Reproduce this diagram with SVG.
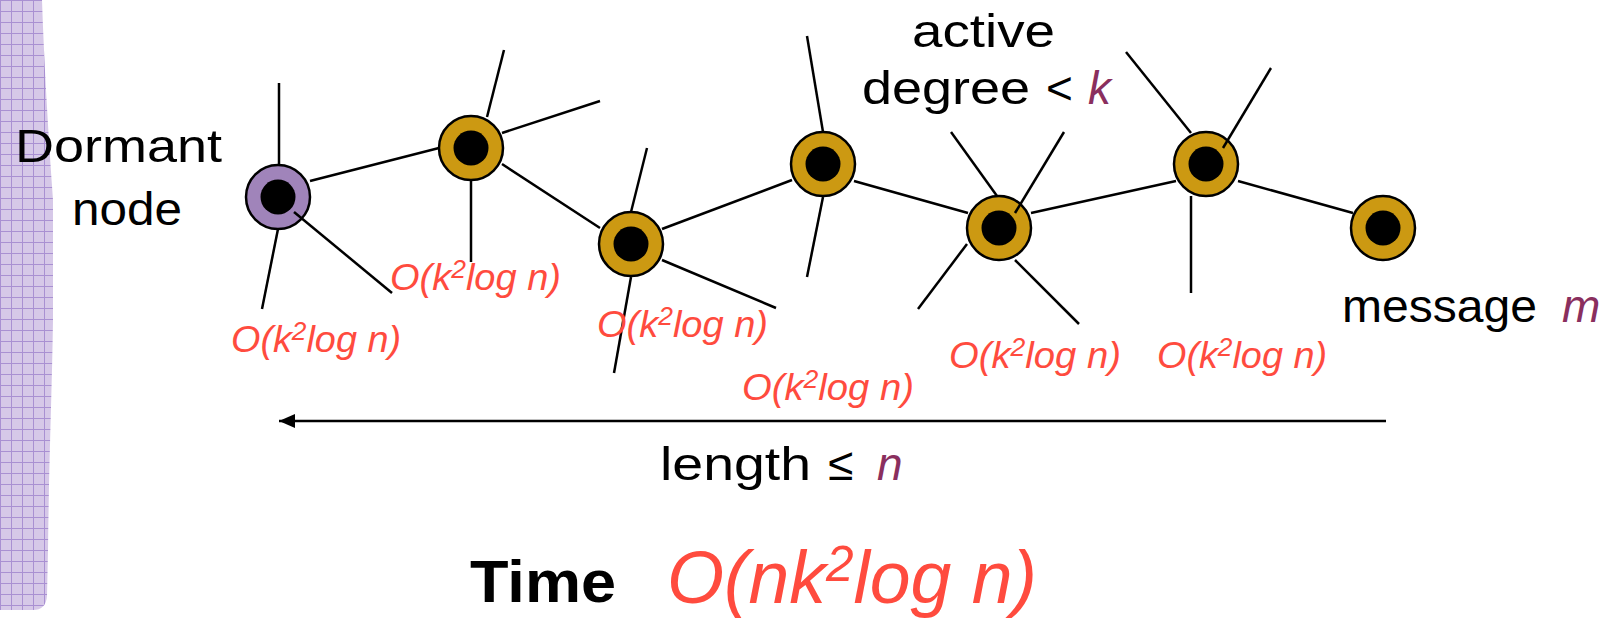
<svg xmlns="http://www.w3.org/2000/svg" width="1614" height="619" viewBox="0 0 1614 619">
  <style>
    .txt { font-family: "Liberation Sans", "DejaVu Sans", sans-serif; fill: #000; font-size: 46px; }
    .lbl { font-family: "Liberation Sans", "DejaVu Sans", sans-serif; fill: #FF4B3E; font-style: italic; font-size: 36px; }
    .big { font-size: 74px; }
    .sup { font-size: 25px; }
    .var { fill: #8A2F5E; font-style: italic; }
    .edge { stroke: #000; stroke-width: 2.5; fill: none; }
    .ring { stroke: #000; stroke-width: 2.5; }
    .gold { fill: #CC9912; }
    .dorm { fill: #A084BA; }
    .core { fill: #000; }
  </style>
  <defs>
    <pattern id="grid" width="11" height="11" patternUnits="userSpaceOnUse">
      <rect width="11" height="11" fill="#D6C8E8"/>
      <path d="M0,0.5 H11 M0.5,0 V11" stroke="#A990D2" stroke-width="1" fill="none"/>
    </pattern>
    <marker id="arrow" markerWidth="16" markerHeight="14" refX="16" refY="7" orient="auto" markerUnits="userSpaceOnUse">
      <path d="M0,0 L16,7 L0,14 Z" fill="#000"/>
    </marker>
  </defs>
  <rect width="1614" height="619" fill="#fff"/>

  <!-- left decorative strip -->
  <path id="strip" d="M0,0 L42,0 C44,60 48,130 53,200 L53,320 C52,390 49,460 48,550 L47,596 Q46,610 33,610 L0,610 Z" fill="url(#grid)"/>

  <!-- nodes -->
  <g id="node-dormant"><circle class="ring dorm" cx="278" cy="197" r="32"/><circle class="core" cx="278" cy="197" r="17.5"/></g>
  <g id="node-1"><circle class="ring gold" cx="471" cy="148" r="32"/><circle class="core" cx="471" cy="148" r="17.5"/></g>
  <g id="node-2"><circle class="ring gold" cx="631" cy="244" r="32"/><circle class="core" cx="631" cy="244" r="17.5"/></g>
  <g id="node-3"><circle class="ring gold" cx="823" cy="164" r="32"/><circle class="core" cx="823" cy="164" r="17.5"/></g>
  <g id="node-4"><circle class="ring gold" cx="999" cy="228" r="32"/><circle class="core" cx="999" cy="228" r="17.5"/></g>
  <g id="node-5"><circle class="ring gold" cx="1206" cy="164" r="32"/><circle class="core" cx="1206" cy="164" r="17.5"/></g>
  <g id="node-6"><circle class="ring gold" cx="1383" cy="228" r="32"/><circle class="core" cx="1383" cy="228" r="17.5"/></g>

  <!-- connectors -->
  <g id="connectors" class="edge">
    <line x1="279" y1="83" x2="279" y2="165"/>
    <line x1="278" y1="229" x2="262" y2="309"/>
    <line x1="294" y1="212" x2="392" y2="293"/>
    <line x1="310" y1="181" x2="439" y2="148"/>

    <line x1="487" y1="117" x2="504" y2="50"/>
    <line x1="502" y1="133" x2="600" y2="101"/>
    <line x1="471" y1="181" x2="471" y2="262"/>
    <line x1="502" y1="164" x2="600" y2="228"/>

    <line x1="631" y1="212" x2="647" y2="148"/>
    <line x1="631" y1="277" x2="614" y2="373"/>
    <line x1="662" y1="260" x2="776" y2="308"/>
    <line x1="662" y1="229" x2="792" y2="180"/>

    <line x1="823" y1="132" x2="807" y2="36"/>
    <line x1="823" y1="197" x2="807" y2="277"/>
    <line x1="854" y1="181" x2="968" y2="213"/>

    <line x1="951" y1="132" x2="997" y2="196"/>
    <line x1="1015" y1="213" x2="1064" y2="132"/>
    <line x1="967" y1="244" x2="918" y2="309"/>
    <line x1="1015" y1="260" x2="1079" y2="324"/>
    <line x1="1031" y1="213" x2="1176" y2="181"/>

    <line x1="1191" y1="133" x2="1126" y2="52"/>
    <line x1="1223" y1="148" x2="1271" y2="68"/>
    <line x1="1191" y1="196" x2="1191" y2="293"/>
    <line x1="1238" y1="181" x2="1353" y2="213"/>

    <line id="length-arrow" x1="1386" y1="421" x2="279" y2="421" marker-end="url(#arrow)"/>
  </g>

  <!-- texts -->
  <g id="labels">
    <text class="txt" x="15" y="162" textLength="207" lengthAdjust="spacingAndGlyphs">Dormant</text>
    <text class="txt" x="72" y="225" textLength="110" lengthAdjust="spacingAndGlyphs">node</text>

    <text class="txt" x="912" y="47" textLength="143" lengthAdjust="spacingAndGlyphs">active</text>
    <text class="txt" y="104"><tspan x="862" textLength="168" lengthAdjust="spacingAndGlyphs">degree</tspan><tspan x="1046">&lt;</tspan><tspan x="1088" class="var">k</tspan></text>

    <text class="txt" y="322"><tspan x="1342" textLength="195" lengthAdjust="spacingAndGlyphs">message</tspan><tspan x="1562" class="var">m</tspan></text>

    <text class="txt" y="480"><tspan x="660" textLength="151" lengthAdjust="spacingAndGlyphs">length</tspan><tspan x="828">≤</tspan><tspan x="877" class="var">n</tspan></text>

    <text class="txt" x="470" y="602" font-weight="bold" style="font-size:60px" textLength="146" lengthAdjust="spacingAndGlyphs">Time</text>
    <text class="lbl big" x="667" y="603" textLength="370" lengthAdjust="spacingAndGlyphs">O(nk<tspan dy="-22" style="font-size:50px">2</tspan><tspan dy="22">log n)</tspan></text>

    <text class="lbl" x="231" y="352" textLength="170" lengthAdjust="spacingAndGlyphs">O(k<tspan class="sup" dy="-12">2</tspan><tspan dy="12">log n)</tspan></text>
    <text class="lbl" x="390" y="290" textLength="171" lengthAdjust="spacingAndGlyphs">O(k<tspan class="sup" dy="-12">2</tspan><tspan dy="12">log n)</tspan></text>
    <text class="lbl" x="597" y="337" textLength="171" lengthAdjust="spacingAndGlyphs">O(k<tspan class="sup" dy="-12">2</tspan><tspan dy="12">log n)</tspan></text>
    <text class="lbl" x="742" y="400" textLength="172" lengthAdjust="spacingAndGlyphs">O(k<tspan class="sup" dy="-12">2</tspan><tspan dy="12">log n)</tspan></text>
    <text class="lbl" x="949" y="368" textLength="172" lengthAdjust="spacingAndGlyphs">O(k<tspan class="sup" dy="-12">2</tspan><tspan dy="12">log n)</tspan></text>
    <text class="lbl" x="1157" y="368" textLength="170" lengthAdjust="spacingAndGlyphs">O(k<tspan class="sup" dy="-12">2</tspan><tspan dy="12">log n)</tspan></text>
  </g>
</svg>
